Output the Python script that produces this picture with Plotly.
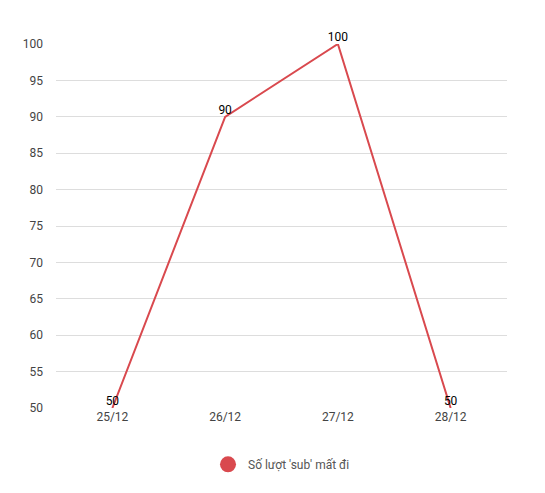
import plotly.graph_objects as go

dates = ["25/12", "26/12", "27/12", "28/12"]
values = [50, 90, 100, 50]
series_name = "Số lượt 'sub' mất đi"
y_ticks = [50, 55, 60, 65, 70, 75, 80, 85, 90, 95, 100]

fig = go.Figure(go.Scatter(
    x=dates, y=values, name=series_name, mode="lines+text",
    text=[str(v) for v in values], textposition="top center",
    textfont=dict(color="#000", size=12),
    line=dict(color="#d9494e", width=2), cliponaxis=False,
    showlegend=False,
))
fig.add_trace(go.Scatter(x=[None], y=[None], mode="markers", name=series_name,
                         marker=dict(color="#d9494e", size=16), showlegend=True))
fig.update_layout(
    width=545, height=493, margin=dict(l=48, r=46, t=36, b=93),
    paper_bgcolor="white", plot_bgcolor="white",
    font=dict(family="Roboto", size=12, color="#333"),
    xaxis=dict(type="category", range=[-0.5, 3.5], showgrid=False, ticks="",
               tickfont=dict(color="#444")),
    yaxis=dict(range=[50, 100], tickvals=y_ticks, gridcolor="#dddddd",
               zeroline=False, ticks="", ticklabelstandoff=12, tickfont=dict(color="#444")),
    legend=dict(orientation="h", x=0.5, xanchor="center", y=-0.115, yanchor="top",
                font=dict(color="#555", size=12)),
)
fig.write_html("out.html")
